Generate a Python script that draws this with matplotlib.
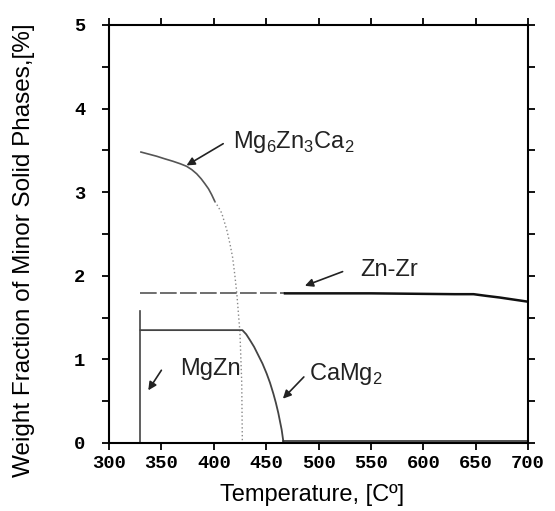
import matplotlib.pyplot as plt
import numpy as np

# ///---- Datos ----///
# Mg6Zn3Ca2: tramo continuo y tramo punteado
mg6_T = [330.5, 338, 345.5, 353, 361, 368, 374, 379, 383.7, 388, 391.6, 395, 398, 401]
mg6_w = [3.48, 3.455, 3.43, 3.40, 3.37, 3.34, 3.31, 3.27, 3.22, 3.16, 3.10, 3.04, 2.97, 2.89]
mg6_T_dot = [401, 404.5, 407.6, 410, 412.4, 415.5, 418, 420, 422, 425, 426.7, 427.3]
mg6_w_dot = [2.89, 2.82, 2.75, 2.65, 2.55, 2.38, 2.22, 2.02, 1.79, 1.32, 0.72, 0.00]

# CaMg2
camg_T = [330, 427.3, 431, 434.6, 438.5, 442.5, 446.5, 450.5, 453.7, 456.9, 459.3, 461.6, 464.8, 466.4]
camg_w = [1.35, 1.35, 1.30, 1.23, 1.15, 1.05, 0.95, 0.83, 0.72, 0.59, 0.48, 0.36, 0.16, 0.02]
camg_T_tail = [466.4, 500, 550, 600, 650, 700]
camg_w_tail = [0.02, 0.02, 0.02, 0.02, 0.02, 0.02]

# MgZn
mgzn_T = [330, 330]
mgzn_w = [0.0, 1.58]

# Zn-Zr
znzr_T_dash = [330, 468]
znzr_w_dash = [1.79, 1.79]
znzr_T = [468, 550, 630, 648, 660, 673, 700]
znzr_w = [1.79, 1.79, 1.78, 1.78, 1.76, 1.74, 1.69]

xticks = [300, 350, 400, 450, 500, 550, 600, 650, 700]
yticks = [0, 1, 2, 3, 4, 5]

# ///---- Figura ----///
plt.rcParams['font.family'] = 'Liberation Sans'
plt.rcParams['mathtext.fontset'] = 'custom'
plt.rcParams['mathtext.rm'] = 'Liberation Sans'

fig = plt.figure(figsize=(5.55, 5.11), dpi=100)
ax = fig.add_axes([0.1964, 0.1331, 0.755, 0.818])

ax.plot(mg6_T, mg6_w, color='#555555', lw=1.2)
ax.plot(mg6_T_dot, mg6_w_dot, color='#888888', lw=1.0, ls=(0, (1, 1.8)))
ax.plot(camg_T, camg_w, color='#444444', lw=1.3)
ax.plot(camg_T_tail, camg_w_tail, color='#333333', lw=1.2)
ax.plot(mgzn_T, mgzn_w, color='#444444', lw=1.2)
ax.plot(znzr_T_dash, znzr_w_dash, color='#555555', lw=1.2, ls=(0, (10, 2)))
ax.plot(znzr_T, znzr_w, color='#111111', lw=1.8)

# flechas (cola -> punta) y textos
akw = dict(arrowstyle='-|>', color='#222222', lw=1.2, mutation_scale=12,
           shrinkA=0, shrinkB=0)
ax.annotate('', xy=(374, 3.32), xytext=(409, 3.58), arrowprops=akw)
ax.annotate('', xy=(487, 1.88), xytext=(523, 2.05), arrowprops=akw)
ax.annotate('', xy=(337.5, 0.63), xytext=(350, 0.87), arrowprops=akw)
ax.annotate('', xy=(466, 0.53), xytext=(486, 0.79), arrowprops=akw)

tkw = dict(fontsize=17, va='center', ha='left', color='#222222')
ax.text(418, 3.60, 'Mg$_6$Zn$_3$Ca$_2$', **tkw)
ax.text(540, 2.07, 'Zn-Zr', **tkw)
ax.text(367.5, 0.89, 'MgZn', **tkw)
ax.text(491, 0.83, 'CaMg$_2$', **tkw)

ax.set_xlim(300, 700)
ax.set_ylim(0, 5)
ax.set_xticks(xticks)
ax.set_yticks(yticks)
ax.set_yticks(np.arange(0.5, 5, 1.0), minor=True)
ax.tick_params(which='both', direction='out', top=True, right=True,
               length=5, width=1.3)
ax.tick_params(axis='x', pad=3.5)
ax.tick_params(axis='y', pad=12)
for lab in ax.get_xticklabels() + ax.get_yticklabels():
    lab.set_family('Liberation Mono')
    lab.set_weight('bold')
    lab.set_fontsize(13.5)
for s in ax.spines.values():
    s.set_linewidth(1.5)

ax.set_xlabel('Temperature, [Cº]', fontsize=17)
ax.set_ylabel('Weight Fraction of Minor Solid Phases,[%]', fontsize=17.5)
ax.xaxis.set_label_coords(0.484, -0.098)
ax.yaxis.set_label_coords(-0.177, 0.462)

fig.savefig('out.png', dpi=100)
